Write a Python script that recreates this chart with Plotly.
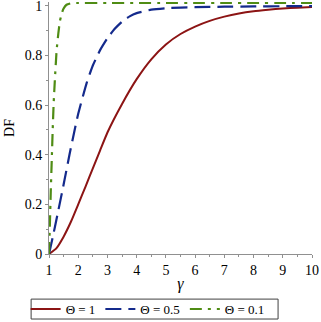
import plotly.graph_objects as go

# Θ = 1
gamma_r = [1, 1.25, 1.5, 1.75, 2, 2.25, 2.5, 2.75, 3, 3.5, 4, 4.5, 5, 5.5, 6, 6.5, 7, 7.5, 8, 8.5, 9, 9.5, 10]
df_r = [0, 0.023, 0.07, 0.13, 0.2, 0.272, 0.345, 0.418, 0.49, 0.605, 0.705, 0.785, 0.845, 0.887, 0.917, 0.94, 0.957, 0.97, 0.979, 0.985, 0.99, 0.993, 0.996]

# Θ = 0.5
gamma_b = [1, 1.15, 1.32, 1.5, 1.7, 1.86, 2, 2.29, 2.5, 2.74, 3, 3.25, 3.5, 3.76, 4, 4.5, 5, 6, 7, 8, 9, 10]
df_b = [0, 0.08, 0.176, 0.28, 0.4, 0.49, 0.565, 0.69, 0.76, 0.82, 0.87, 0.908, 0.937, 0.958, 0.971, 0.985, 0.991, 0.995, 0.997, 0.998, 0.999, 0.999]

# Θ = 0.1
gamma_g = [1, 1.03, 1.06, 1.1, 1.126, 1.16, 1.2, 1.26, 1.32, 1.375, 1.45, 1.5, 1.6, 1.8, 2, 3, 4, 5, 6, 7, 8, 9, 10]
df_g = [0, 0.12, 0.25, 0.40, 0.5, 0.61, 0.70, 0.82, 0.89, 0.94, 0.975, 0.99, 1.005, 1.012, 1.012, 1.012, 1.012, 1.012, 1.012, 1.012, 1.012, 1.012, 1.012]

names = ["Θ = 1", "Θ = 0.5", "Θ = 0.1"]
x_ticks = [1, 2, 3, 4, 5, 6, 7, 8, 9, 10]
y_ticks = [0, 0.2, 0.4, 0.6, 0.8, 1]
y_tick_labels = ["0", "0.2", "0.4", "0.6", "0.8", "1"]

SERIF = "Liberation Serif, DejaVu Serif, serif"

fig = go.Figure()
fig.add_trace(go.Scatter(x=gamma_r, y=df_r, mode="lines", name=names[0],
                         line=dict(color="#8c1414", width=2, shape="spline", smoothing=0.5)))
fig.add_trace(go.Scatter(x=gamma_b, y=df_b, mode="lines", name=names[1],
                         line=dict(color="#142a8c", width=2.2, dash="16px,7px", shape="spline", smoothing=0.5)))
fig.add_trace(go.Scatter(x=gamma_g, y=df_g, mode="lines", name=names[2],
                         line=dict(color="#4f8c14", width=2.2, dash="12px,6px,3px,6px", shape="spline", smoothing=0.4)))

axis_common = dict(
    showgrid=False, zeroline=False, showline=True, linecolor="#909090", linewidth=1,
    ticks="outside", ticklen=3, tickcolor="#909090", tickwidth=1,
    tickfont=dict(family=SERIF, size=14, color="black"),
    automargin=False, ticklabeloverflow="allow",
)

fig.update_layout(
    template="none",
    width=321, height=322,
    margin=dict(l=49, r=9, t=2, b=68, autoexpand=False),
    paper_bgcolor="white", plot_bgcolor="white",
    font=dict(family=SERIF, color="black"),
    showlegend=True,
    legend=dict(orientation="h", x=0.375, xanchor="center", y=-0.159, yanchor="top",
                font=dict(family=SERIF, size=13, color="black"),
                borderwidth=0, bgcolor="rgba(0,0,0,0)",
                itemwidth=30, tracegroupgap=0),
    shapes=[dict(type="rect", xref="paper", yref="paper",
                 x0=-0.068, x1=0.871, y0=-0.258, y1=-0.179,
                 line=dict(color="#404040", width=1), layer="above")],
    xaxis=dict(range=[1, 10], tickvals=x_ticks,
               minor=dict(dtick=0.5, ticks="outside", ticklen=2, tickcolor="#909090"),
               title=dict(text="<i>γ</i>", font=dict(family=SERIF, size=16, color="black"), standoff=1),
               **axis_common),
    yaxis=dict(range=[0, 1.016], tickvals=y_ticks, ticktext=y_tick_labels,
               minor=dict(dtick=0.1, ticks="outside", ticklen=2, tickcolor="#909090"),
               title=dict(text="DF", font=dict(family=SERIF, size=14, color="black"), standoff=6),
               **axis_common),
)

fig.write_html("out.html",
               config={"displayModeBar": False},
               post_script="document.body.style.margin='0';document.body.style.overflow='hidden';")
